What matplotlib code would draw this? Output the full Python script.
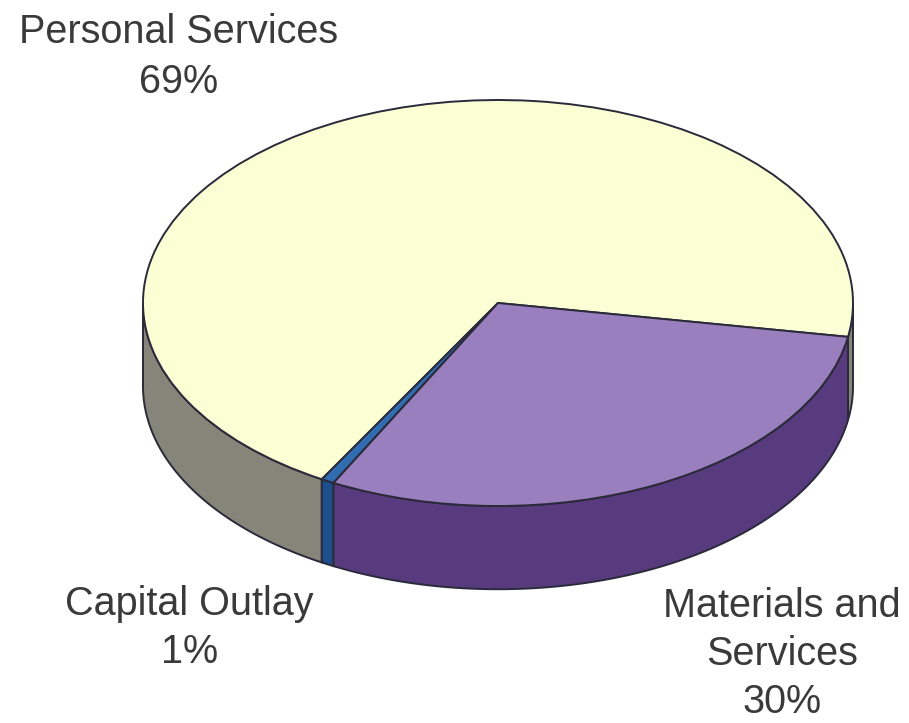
import matplotlib.pyplot as plt
import numpy as np

labels = ["Personal Services\n69%", "Capital Outlay\n1%", "Materials and\nServices\n30%"]
shares = [69.4, 0.6, 30]
top_colors = ["#FBFFD4", "#2F6DB0", "#9A7FBE"]
side_colors = ["#85857A", "#1D4F8C", "#573B7E"]
start = -9.6
depth = 0.41
edge = "#2A2A3A"

plt.rcParams["font.family"] = ["Liberation Sans", "DejaVu Sans"]

fig = plt.figure(figsize=(9.09, 7.23), dpi=100)
ax = fig.add_axes([0, 0, 1, 1])

# side wall first, only the front half of the ellipse shows
a0 = start
for share, col in zip(shares, side_colors):
    a1 = a0 + share * 3.6
    for lo, hi in [(a0, a1), (a0 - 360, a1 - 360)]:
        lo2, hi2 = max(lo, -180), min(hi, 0)
        if lo2 < hi2:
            t = np.radians(np.linspace(lo2, hi2, 80))
            xs = np.r_[np.cos(t), np.cos(t)[::-1]]
            ys = np.r_[np.sin(t), np.sin(t)[::-1] - depth]
            ax.fill(xs, ys, facecolor=col, edgecolor=edge, linewidth=1.4, zorder=1)
    a0 = a1

wedges, _ = ax.pie(shares, colors=top_colors, startangle=start, radius=1,
                   wedgeprops=dict(edgecolor=edge, linewidth=1.4))
for w in wedges:
    w.set_zorder(2)

ax.set_aspect("auto")
ax.set_xlim(-498 / 355, (909 - 498) / 355)
ax.set_ylim(-(723 - 303) / 203, 303 / 203)
ax.axis("off")

fs = 28.5
c = "#3A3A3A"
ax.text(-0.90, 1.21, labels[0], ha="center", va="center", fontsize=fs, color=c, linespacing=1.4)
ax.text(-0.87, -1.60, labels[1], ha="center", va="center", fontsize=fs, color=c, linespacing=1.33)
ax.text(0.80, -1.73, labels[2], ha="center", va="center", fontsize=fs, color=c, linespacing=1.34)

fig.savefig("out.png", dpi=100)
